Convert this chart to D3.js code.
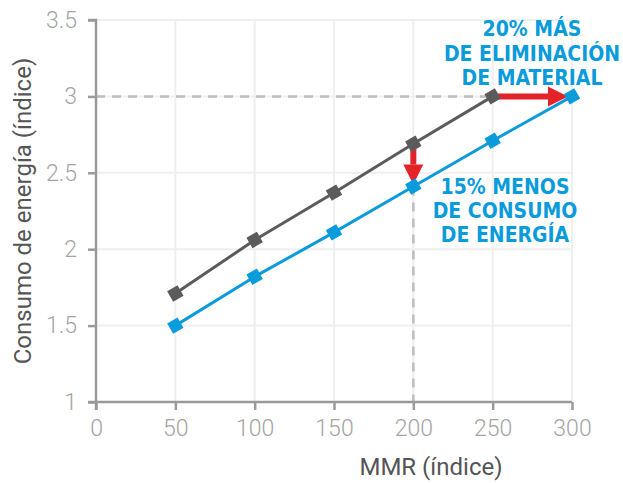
<!DOCTYPE html>
<html><head><meta charset="utf-8">
<script src="https://cdn.jsdelivr.net/npm/d3@7"></script>
<style>body{margin:0;background:#fff}svg{display:block}</style>
</head><body>
<svg id="c" width="623" height="483"></svg>
<script>
const xTicks = [0, 50, 100, 150, 200, 250, 300];
const yTicks = [1, 1.5, 2, 2.5, 3, 3.5];
const yTickLabels = ["1", "1.5", "2", "2.5", "3", "3.5"];
const grayX = [50, 100, 150, 200, 250];
const grayY = [1.71, 2.06, 2.37, 2.69, 3.0];
const blueX = [50, 100, 150, 200, 250, 300];
const blueY = [1.5, 1.82, 2.11, 2.41, 2.71, 3.0];
const annoTop = ["20% MÁS", "DE ELIMINACIÓN", "DE MATERIAL"];
const annoBottom = ["15% MENOS", "DE CONSUMO", "DE ENERGÍA"];
const xTitle = "MMR (índice)";
const yTitle = "Consumo de energía (índice)";

const svg = d3.select("#c");
const x = d3.scaleLinear().domain([0, 300]).range([96, 572]);
const y = d3.scaleLinear().domain([1, 3.5]).range([402, 20]);
const font = "'Liberation Sans Narrow', 'Roboto', sans-serif";
const GRAY = "#5b5b5d", BLUE = "#0a9bdb", RED = "#e2232a", AX = "#9a9a9a";

// grid
svg.append("g").selectAll("line").data(xTicks.slice(1)).join("line")
  .attr("x1", d => x(d)).attr("x2", d => x(d)).attr("y1", y(3.5)).attr("y2", y(1))
  .attr("stroke", "#efefef").attr("stroke-width", 2);
svg.append("g").selectAll("line").data(yTicks.slice(1)).join("line")
  .attr("x1", x(0)).attr("x2", x(300)).attr("y1", d => y(d)).attr("y2", d => y(d))
  .attr("stroke", "#efefef").attr("stroke-width", 2);

// dashed guides
svg.append("line").attr("x1", x(0)).attr("x2", x(250)).attr("y1", y(3)).attr("y2", y(3))
  .attr("stroke", "#bdbdbd").attr("stroke-width", 2.5).attr("stroke-dasharray", "9,7");
svg.append("line").attr("x1", x(200)).attr("x2", x(200)).attr("y1", y(2.41)).attr("y2", y(1))
  .attr("stroke", "#bdbdbd").attr("stroke-width", 2.5).attr("stroke-dasharray", "9,7");

// axes
const xAxis = svg.append("g").attr("transform", `translate(0,${y(1)})`)
  .call(d3.axisBottom(x).tickValues(xTicks).tickSize(8).tickPadding(10));
const yAxis = svg.append("g").attr("transform", `translate(${x(0)},0)`)
  .call(d3.axisLeft(y).tickValues(yTicks).tickFormat((d, i) => yTickLabels[i]).tickSize(8).tickPadding(11));
[xAxis, yAxis].forEach(g => {
  g.select(".domain").attr("stroke", AX).attr("stroke-width", 2.5);
  g.selectAll(".tick line").attr("stroke", AX).attr("stroke-width", 2.5);
  g.selectAll(".tick text").attr("fill", "#a4a4a4").style("font-family", font)
    .style("font-size", "23px").style("font-weight", 300);
});
yAxis.select(".domain").attr("d", `M-8,${y(3.5)}H0V${y(1) + 8}`);
xAxis.select(".domain").attr("d", `M${x(0) - 8},0H${x(300)}`);

// lines
const line = d3.line().x(d => x(d[0])).y(d => y(d[1]));
const gray = grayX.map((d, i) => [d, grayY[i]]);
const blue = blueX.map((d, i) => [d, blueY[i]]);
svg.append("path").datum(gray).attr("d", line).attr("fill", "none").attr("stroke", GRAY).attr("stroke-width", 3);
svg.append("path").datum(blue).attr("d", line).attr("fill", "none").attr("stroke", BLUE).attr("stroke-width", 3);

// arrows
function arrow(x1, y1, x2, y2) {
  const ang = Math.atan2(y2 - y1, x2 - x1);
  const head = 20, hw = 10;
  const bx = x2 - head * Math.cos(ang), by = y2 - head * Math.sin(ang);
  svg.append("line").attr("x1", x1).attr("y1", y1).attr("x2", bx).attr("y2", by)
    .attr("stroke", RED).attr("stroke-width", 6);
  const px = -Math.sin(ang) * hw, py = Math.cos(ang) * hw;
  svg.append("path").attr("d", `M${x2},${y2}L${bx + px},${by + py}L${bx - px},${by - py}Z`).attr("fill", RED);
}
arrow(x(200), y(2.69), x(200), y(2.41) - 2);
arrow(x(250), y(3), x(300) - 4, y(3));

// markers
function markers(data, color) {
  svg.append("g").selectAll("rect").data(data).join("rect")
    .attr("x", -6).attr("y", -6).attr("width", 12).attr("height", 12)
    .attr("fill", color)
    .attr("transform", d => `translate(${x(d[0])},${y(d[1])}) rotate(-30)`);
}
markers(gray, GRAY);
markers(blue, BLUE);

// annotations
const annoFont = "'DejaVu Sans Condensed', 'Roboto', sans-serif";
svg.append("text").attr("text-anchor", "middle").attr("fill", BLUE)
  .style("font-family", annoFont).style("font-weight", "bold").style("font-size", "21px")
  .selectAll("tspan").data(annoTop).join("tspan")
  .attr("x", 532).attr("y", (d, i) => 36 + i * 24.5).text(d => d);
svg.append("text").attr("text-anchor", "middle").attr("fill", BLUE)
  .style("font-family", annoFont).style("font-weight", "bold").style("font-size", "21px")
  .selectAll("tspan").data(annoBottom).join("tspan")
  .attr("x", 505).attr("y", (d, i) => 194 + i * 24).text(d => d);

// titles
svg.append("text").attr("x", 431).attr("y", 475).attr("text-anchor", "middle")
  .attr("fill", "#555").style("font-family", font).style("font-size", "24px").text(xTitle);
svg.append("text").attr("transform", `translate(31,${y(2.25)}) rotate(-90)`).attr("text-anchor", "middle")
  .attr("fill", "#555").style("font-family", font).style("font-size", "24px").text(yTitle);
</script>
</body></html>
